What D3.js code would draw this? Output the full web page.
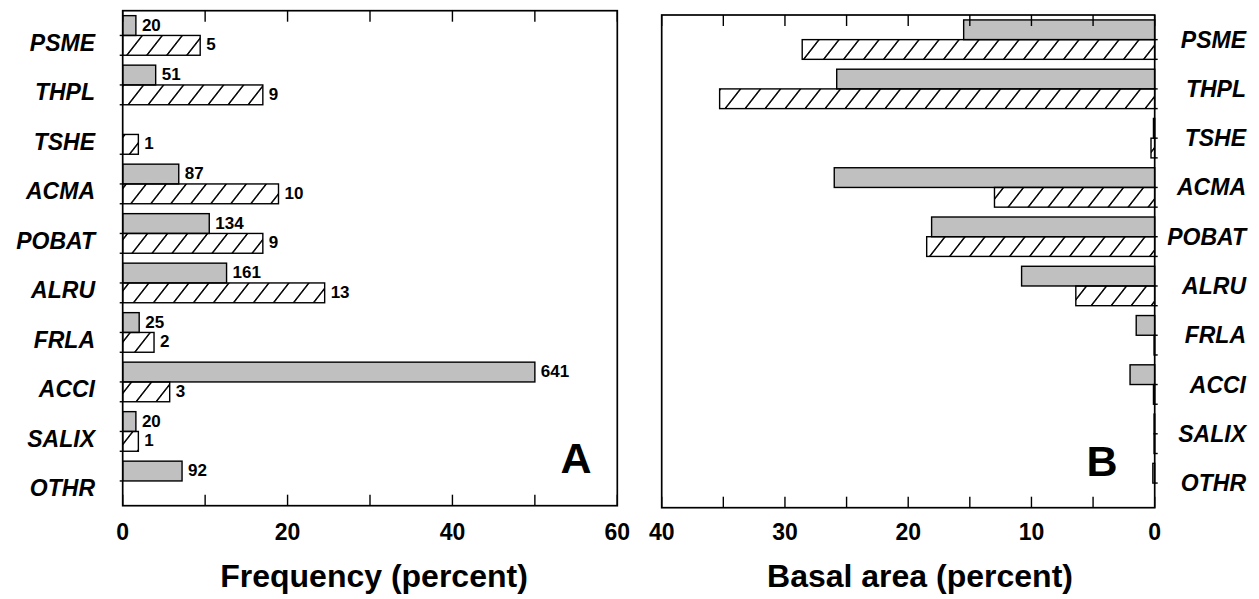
<!DOCTYPE html>
<html>
<head>
<meta charset="utf-8">
<script src="https://cdn.jsdelivr.net/npm/d3@7"></script>
<style>
  body { margin: 0; background: #fff; }
  text { font-family: "Liberation Sans", Arial, sans-serif; font-weight: bold; fill: #000; }
</style>
</head>
<body>
<svg id="chart" width="1259" height="599"></svg>
<script>
// species codes, top to bottom
var species = ["PSME", "THPL", "TSHE", "ACMA", "POBAT", "ALRU", "FRLA", "ACCI", "SALIX", "OTHR"];

// panel A: frequency (percent), gray = first series, hatched = second
var freqGray  = [1.6, 4.0, 0, 6.8, 10.5, 12.6, 2.0, 50.0, 1.6, 7.2];
var freqHatch = [9.4, 17.0, 1.9, 18.9, 17.0, 24.5, 3.8, 5.7, 1.9, 0];
var countGray  = [20, 51, null, 87, 134, 161, 25, 641, 20, 92];
var countHatch = [5, 9, 1, 10, 9, 13, 2, 3, 1, null];

// panel B: basal area (percent)
var baGray  = [15.5, 25.8, 0.1, 26.0, 18.1, 10.8, 1.5, 2.0, 0.05, 0.15];
var baHatch = [28.6, 35.3, 0.3, 13.0, 18.5, 6.4, 0.05, 0.1, 0.05, 0];

var freqTicks = [0, 20, 40, 60];
var baTicks = [40, 30, 20, 10, 0];

var svg = d3.select("#chart");

// hatch pattern ( / lines )
var defs = svg.append("defs");
defs.append("pattern")
    .attr("id", "hatch")
    .attr("patternUnits", "userSpaceOnUse")
    .attr("width", 20).attr("height", 20)
    .attr("patternTransform", "skewX(-38)")
  .append("line")
    .attr("x1", 10).attr("y1", -1).attr("x2", 10).attr("y2", 21)
    .attr("stroke", "#000").attr("stroke-width", 1.9);

var rows = species.map(function(s, i) {
  return {name: s, fg: freqGray[i], fh: freqHatch[i], cg: countGray[i], ch: countHatch[i],
          bg: baGray[i], bh: baHatch[i]};
});

function panel(opt) {
  var g = svg.append("g");
  var x = d3.scaleLinear().domain(opt.domain).range([opt.left, opt.right]);
  var y = d3.scaleBand().domain(species).range([opt.top, opt.bottom]);
  var bw = y.bandwidth();
  var x0 = x(0);
  var out = opt.domain[0] < opt.domain[1] ? -3 : 3; // bar edges poke past the zero axis

  // bars
  [["gray", opt.gKey, 0.1], ["hatch", opt.hKey, 0.5]].forEach(function(s) {
    var data = rows.filter(function(d) { return d[s[1]] > 0; });
    g.selectAll(".bar-" + s[0])
      .data(data)
      .enter().append("rect")
      .attr("x", function(d) { return Math.min(x0, x(d[s[1]])); })
      .attr("width", function(d) { return Math.abs(x(d[s[1]]) - x0); })
      .attr("y", function(d) { return y(d.name) + bw * s[2]; })
      .attr("height", bw * 0.4)
      .attr("fill", s[0] == "gray" ? "#c0c0c0" : "url(#hatch)")
      .attr("stroke", "#000")
      .attr("stroke-width", 1.4);
    g.selectAll(".edge-" + s[0])
      .data(data)
      .enter().append("line")
      .attr("x1", x0).attr("x2", x0 + out)
      .attr("y1", function(d) { return y(d.name) + bw * (s[2] + 0.4); })
      .attr("y2", function(d) { return y(d.name) + bw * (s[2] + 0.4); })
      .attr("stroke", "#000").attr("stroke-width", 1.4);
  });

  // frame
  g.append("rect")
    .attr("x", opt.left).attr("y", opt.top)
    .attr("width", opt.right - opt.left).attr("height", opt.bottom - opt.top)
    .attr("fill", "none").attr("stroke", "#000").attr("stroke-width", 1.7);

  // inward ticks top and bottom
  var minor = d3.range(Math.min(opt.domain[0], opt.domain[1]),
                       Math.max(opt.domain[0], opt.domain[1]) + 0.001, opt.minorStep);
  g.selectAll(".tickb").data(minor).enter().append("line")
    .attr("x1", function(d) { return x(d); }).attr("x2", function(d) { return x(d); })
    .attr("y1", opt.bottom).attr("y2", opt.bottom - 11)
    .attr("stroke", "#000").attr("stroke-width", 1.4);
  g.selectAll(".tickt").data(minor).enter().append("line")
    .attr("x1", function(d) { return x(d); }).attr("x2", function(d) { return x(d); })
    .attr("y1", opt.top).attr("y2", opt.top + 11)
    .attr("stroke", "#000").attr("stroke-width", 1.4);

  // tick labels
  g.selectAll(".ticklab").data(opt.ticks).enter().append("text")
    .attr("x", function(d) { return x(d); })
    .attr("y", 540)
    .attr("text-anchor", "middle")
    .style("font-size", "23px")
    .text(function(d) { return d; });

  // species labels
  g.selectAll(".cat").data(species).enter().append("text")
    .attr("x", opt.labelX)
    .attr("y", function(d) { return y(d) + bw / 2 + opt.labelDy; })
    .attr("text-anchor", "end")
    .style("font-size", "23px")
    .style("font-style", "italic")
    .text(function(d) { return d; });

  // axis title
  g.append("text")
    .attr("x", opt.titleX).attr("y", 587)
    .attr("text-anchor", "middle")
    .style("font-size", "32px")
    .text(opt.title);

  // panel letter
  g.append("text")
    .attr("x", opt.letterX).attr("y", opt.letterY)
    .attr("text-anchor", "middle")
    .style("font-size", "43px")
    .text(opt.letter);

  return {x: x, y: y, bw: bw, g: g};
}

var A = panel({
  domain: [0, 60], left: 122.7, right: 617.3, top: 10.7, bottom: 505.7,
  gKey: "fg", hKey: "fh", minorStep: 10, ticks: freqTicks,
  labelX: 95, labelDy: 15.5, title: "Frequency (percent)", titleX: 374,
  letter: "A", letterX: 576, letterY: 473
});

// count labels beside the frequency bars
[["cg", "fg", 0.3], ["ch", "fh", 0.7]].forEach(function(s) {
  A.g.selectAll(".cnt-" + s[0])
    .data(rows.filter(function(d) { return d[s[0]] != null; }))
    .enter().append("text")
    .attr("x", function(d) { return A.x(d[s[1]]) + 6; })
    .attr("y", function(d) { return A.y(d.name) + A.bw * s[2] + 5; })
    .style("font-size", "17px")
    .text(function(d) { return d[s[0]]; });
});

var B = panel({
  domain: [40, 0], left: 661.7, right: 1154.7, top: 15, bottom: 507.7,
  gKey: "bg", hKey: "bh", minorStep: 5, ticks: baTicks,
  labelX: 1246, labelDy: 8, title: "Basal area (percent)", titleX: 920,
  letter: "B", letterX: 1102, letterY: 476
});
</script>
</body>
</html>
